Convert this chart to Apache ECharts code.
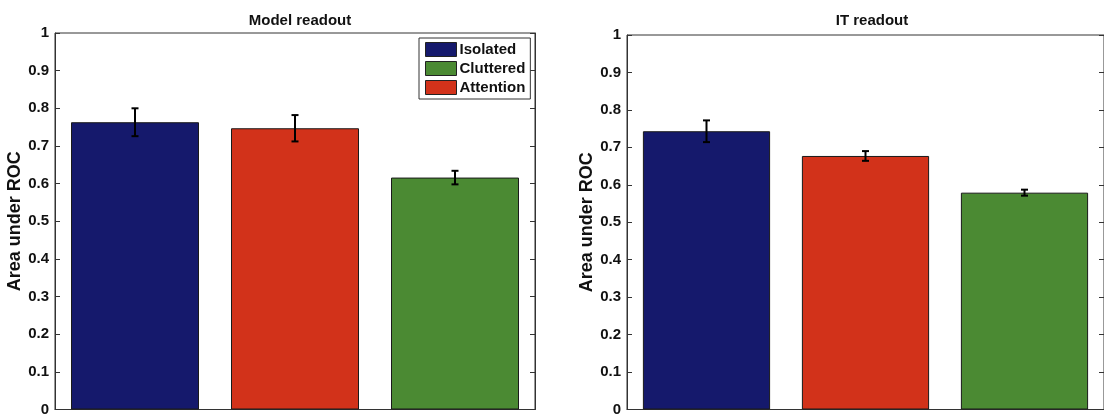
<!DOCTYPE html>
<html>
<head>
<meta charset="utf-8">
<script src="https://cdn.jsdelivr.net/npm/echarts@6/dist/echarts.min.js"></script>
<style>html,body{margin:0;padding:0;background:#fff}#c{width:1104px;height:417px}</style>
</head>
<body>
<div id="c"></div>
<script>
var categories = ['Isolated', 'Attention', 'Cluttered'];
var legendOrder = ['Isolated', 'Cluttered', 'Attention'];
var panelTitles = ['Model readout', 'IT readout'];
var modelMean = [0.763, 0.747, 0.616];
var modelErr = [0.037, 0.035, 0.018];
var itMean = [0.743, 0.677, 0.579];
var itErr = [0.029, 0.013, 0.008];
var yTicks = [0, 0.1, 0.2, 0.3, 0.4, 0.5, 0.6, 0.7, 0.8, 0.9, 1];
var colors = { Isolated: '#15196c', Attention: '#d2321a', Cluttered: '#4b8a33' };

var FONT = 'Liberation Sans, Arial, sans-serif';
var chart = echarts.init(document.getElementById('c'));
var grids = [
  { left: 55, top: 33, width: 480, height: 379 },
  { left: 627, top: 35, width: 480, height: 377 }
];
var means = [modelMean, itMean];
var errs = [modelErr, itErr];

var xAxes = [], yAxes = [], series = [], titles = [];
grids.forEach(function (g, gi) {
  g.show = true; g.borderColor = '#333'; g.borderWidth = 1;
  titles.push({
    text: panelTitles[gi], left: g.left + g.width / 2, top: 8, textAlign: 'center',
    textStyle: { fontFamily: FONT, fontSize: 15, fontWeight: 'bold', color: '#111' }
  });
  xAxes.push({
    type: 'category', gridIndex: gi, data: categories,
    axisLine: { show: true, lineStyle: { color: '#333' } },
    axisTick: { show: false }, axisLabel: { show: false }
  });
  yAxes.push({
    type: 'value', gridIndex: gi, min: yTicks[0], max: yTicks[yTicks.length - 1], interval: 0.1,
    name: 'Area under ROC', nameLocation: 'middle', nameGap: 27,
    nameTextStyle: { fontFamily: FONT, fontSize: 18, fontWeight: 'bold', color: '#111' },
    axisLine: { show: true, lineStyle: { color: '#333' } },
    axisTick: { show: true, inside: true, length: 5, lineStyle: { color: '#333' } },
    axisLabel: {
      margin: 6, fontFamily: FONT, fontSize: 15, fontWeight: 'bold', color: '#111',
      formatter: function (v) { return String(+v.toFixed(1)); }
    },
    splitLine: { show: false }
  });
  yAxes.push({
    type: 'value', gridIndex: gi, min: 0, max: 1, interval: 0.1, position: 'right',
    axisLine: { show: true, lineStyle: { color: '#333' } },
    axisTick: { show: true, inside: true, length: 5, lineStyle: { color: '#333' } },
    axisLabel: { show: false }, splitLine: { show: false }
  });
  categories.forEach(function (cat, ci) {
    var d = categories.map(function (c, k) { return k === ci ? means[gi][k] : '-'; });
    series.push({
      type: 'bar', name: cat, xAxisIndex: gi, yAxisIndex: gi * 2, stack: 'g' + gi,
      barWidth: '80%', data: d,
      itemStyle: { color: colors[cat], borderColor: '#1a1a1a', borderWidth: 1 },
      emphasis: { disabled: true }
    });
  });
  series.push({
    type: 'custom', xAxisIndex: gi, yAxisIndex: gi * 2, z: 10,
    data: categories.map(function (c, k) { return [k, means[gi][k], errs[gi][k]]; }),
    renderItem: function (params, api) {
      var x = api.value(0), m = api.value(1), e = api.value(2);
      var top = api.coord([x, m + e]), bot = api.coord([x, m - e]);
      var hw = 3.5;
      var st = { stroke: '#000', lineWidth: 2 };
      return {
        type: 'group', children: [
          { type: 'line', shape: { x1: top[0], y1: top[1], x2: bot[0], y2: bot[1] }, style: st },
          { type: 'line', shape: { x1: top[0] - hw, y1: top[1], x2: top[0] + hw, y2: top[1] }, style: st },
          { type: 'line', shape: { x1: bot[0] - hw, y1: bot[1], x2: bot[0] + hw, y2: bot[1] }, style: st }
        ]
      };
    }
  });
});

chart.setOption({
  animation: false,
  title: titles,
  grid: grids,
  xAxis: xAxes,
  yAxis: yAxes,
  legend: {
    data: legendOrder, orient: 'vertical', left: 419, top: 38,
    itemWidth: 31, itemHeight: 14, itemGap: 4, padding: [4, 5, 4, 6],
    backgroundColor: '#fff', borderColor: '#333', borderWidth: 1,
    icon: 'rect', selectedMode: false,
    textStyle: { fontFamily: FONT, fontSize: 15, fontWeight: 'bold', color: '#111', padding: [0, 0, 0, -2] },
    itemStyle: { borderColor: '#222', borderWidth: 1 }
  },
  series: series
});
</script>
</body>
</html>
